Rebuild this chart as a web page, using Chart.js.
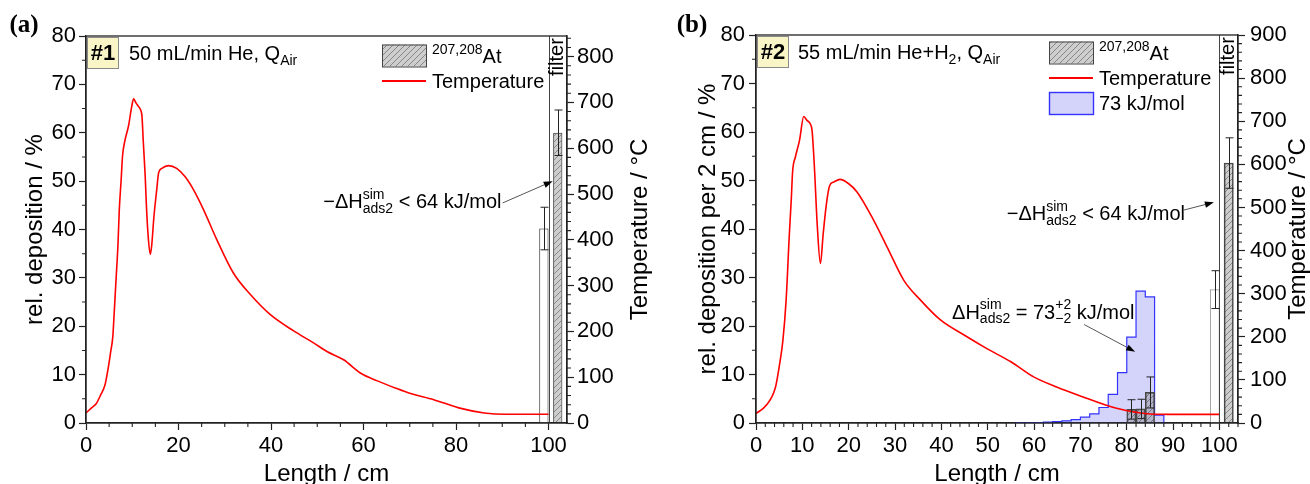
<!DOCTYPE html>
<html>
<head>
<meta charset="utf-8">
<script src="https://cdn.jsdelivr.net/npm/chart.js@4.4.1/dist/chart.umd.min.js"></script>
<style>
  html, body { margin: 0; padding: 0; background: #fff; }
  #wrap { position: relative; width: 1310px; height: 484px; }
  .panel { position: absolute; top: 0; width: 655px; height: 484px; }
  #panelA { left: 0; }
  #panelB { left: 655px; }
</style>
</head>
<body>
<div id="wrap">
  <div class="panel" id="panelA"><canvas id="chartA" width="655" height="484"></canvas></div>
  <div class="panel" id="panelB"><canvas id="chartB" width="655" height="484"></canvas></div>
</div>
<script>
// ---- panel (a): 50 mL/min He ----
const lengthA = [0, 1.2, 2.2, 3.2, 4.1, 4.8, 5.3, 5.8, 6.1, 6.5, 6.9, 7.2, 7.6, 7.9, 8.4, 9.2, 9.9, 10.3, 10.8, 11.3,
  11.8, 12.1, 12.4, 12.8, 13.1, 13.5, 13.9, 14.2, 14.7, 15.3, 15.7, 16.4, 17.8, 19.6, 21.4, 23.2, 25.4, 28.3, 31.9, 35.5,
  39.8, 44.9, 49.2, 52.1, 55.7, 59.5, 63, 67, 70, 75.2, 80.6, 86.1, 90.6, 100];
const tempA = [22, 33, 42, 62, 83, 120, 153, 189, 241, 314, 387, 466, 531, 583, 616, 649, 692, 708, 699, 692,
  684, 670, 612, 539, 466, 400, 368, 387, 452, 510, 546, 556, 562, 556, 538, 510, 466, 400, 327, 281,
  237, 201, 175, 156, 138, 108, 92, 76, 65, 51, 33, 22, 19, 19];
const expPosA = [102];
const expDepA = [60.0];
const expErrA = [4.7];
const openPosA = [99];
const openDepA = [40.2];
const openErrA = [4.4];
const tickXA = [0, 20, 40, 60, 80, 100];
const tickYA = [0, 10, 20, 30, 40, 50, 60, 70, 80];
const tickTA = [0, 100, 200, 300, 400, 500, 600, 700, 800];

// ---- panel (b): 55 mL/min He+H2 ----
const lengthB = [0, 2.2, 4.2, 5.1, 5.8, 6.5, 7.2, 7.6, 7.9, 8.5, 9.4, 10.3, 11.0, 11.7, 12.1, 12.6, 13.2, 13.9, 14.5, 15.2,
  15.9, 16.8, 18.1, 20.0, 21.8, 25.4, 28.3, 31.9, 35.5, 39.8, 44.9, 49.9, 55, 59.9, 65, 69.7, 77.8, 85, 91.2, 100];
const tempB = [22, 41, 83, 137, 191, 285, 439, 516, 583, 617, 656, 711, 702, 694, 678, 594, 462, 370, 439, 509,
  551, 559, 565, 555, 536, 470, 408, 331, 285, 239, 204, 172, 142, 107, 83, 64, 34, 21, 20, 20];
const expPosB = [81, 83, 85, 102];
const expDepB = [2.8, 2.9, 6.3, 53.6];
const expErrB = [2.0, 2.0, 3.2, 5.2];
const openPosB = [99];
const openDepB = [27.5];
const openErrB = [3.9];
const simBinLoB = [56, 58, 60, 62, 64, 66, 68, 70, 72, 74, 76, 78, 80, 82, 84, 86];
const simDepB = [0.02, 0.04, 0.1, 0.2, 0.3, 0.45, 0.7, 1.2, 1.9, 3.2, 5.9, 10.4, 17.7, 27.2, 26.0, 1.6];
const simBinWidth = 2;
const tickXB = [0, 10, 20, 30, 40, 50, 60, 70, 80, 90, 100];
const tickYB = [0, 10, 20, 30, 40, 50, 60, 70, 80];
const tickTB = [0, 100, 200, 300, 400, 500, 600, 700, 800, 900];

const filterEdge = 100;   // cm, start of the filter column
const filterMid = 102;

const FONT = '"Liberation Sans", Arial, sans-serif';
Chart.defaults.font.family = FONT;
Chart.defaults.color = '#000';

function fontOf(size, bold) {
    return (bold ? 'bold ' : '') + size + 'px ' + FONT;
}

function makeHatch(fill) {
    const tile = document.createElement('canvas');
    tile.width = 6;
    tile.height = 6;
    const g = tile.getContext('2d');
    g.fillStyle = fill;
    g.fillRect(0, 0, 6, 6);
    g.strokeStyle = 'rgba(60,60,60,0.7)';
    g.lineWidth = 0.7;
    g.beginPath();
    g.moveTo(0, 6); g.lineTo(6, 0);
    g.moveTo(-1, 1); g.lineTo(1, -1);
    g.moveTo(5, 7); g.lineTo(7, 5);
    g.stroke();
    return document.createElement('canvas').getContext('2d').createPattern(tile, 'repeat');
}
const hatch = makeHatch('rgba(120,120,120,0.36)');
const simFill = 'rgba(100,100,240,0.28)';
const simLine = '#3333ff';
const tempColor = '#ff0000';

// text with stacked super/subscripts
function richWidth(ctx, parts, size) {
    let w = 0;
    parts.forEach(p => {
        if (typeof p === 'string') {
            ctx.font = fontOf(size);
            w += ctx.measureText(p).width;
        } else {
            ctx.font = fontOf(size * 0.7);
            w += Math.max(p.sup ? ctx.measureText(p.sup).width : 0, p.sub ? ctx.measureText(p.sub).width : 0);
        }
    });
    return w;
}

function drawRich(ctx, parts, x, cy, size, align) {
    const base = cy + size * 0.36;
    if (align === 'right') x -= richWidth(ctx, parts, size);
    ctx.textAlign = 'left';
    ctx.textBaseline = 'alphabetic';
    ctx.fillStyle = '#000';
    parts.forEach(p => {
        if (typeof p === 'string') {
            ctx.font = fontOf(size);
            ctx.fillText(p, x, base);
            x += ctx.measureText(p).width;
            return;
        }
        ctx.font = fontOf(size * 0.7);
        let w = 0;
        if (p.sup) { ctx.fillText(p.sup, x, base - size * 0.46); w = ctx.measureText(p.sup).width; }
        if (p.sub) { ctx.fillText(p.sub, x, base + size * 0.24); w = Math.max(w, ctx.measureText(p.sub).width); }
        x += w;
    });
}

function drawArrow(ctx, x1, y1, x2, y2) {
    const a = Math.atan2(y2 - y1, x2 - x1);
    const L = 9, W = 3.2;
    const bx = x2 - L * Math.cos(a), by = y2 - L * Math.sin(a);
    ctx.strokeStyle = '#555';
    ctx.lineWidth = 1;
    ctx.beginPath();
    ctx.moveTo(x1, y1);
    ctx.lineTo(bx, by);
    ctx.stroke();
    ctx.fillStyle = '#000';
    ctx.beginPath();
    ctx.moveTo(x2, y2);
    ctx.lineTo(bx + W * Math.sin(a), by - W * Math.cos(a));
    ctx.lineTo(bx - W * Math.sin(a), by + W * Math.cos(a));
    ctx.closePath();
    ctx.fill();
}

function rotatedText(ctx, text, x, y, size) {
    ctx.save();
    ctx.translate(x, y);
    ctx.rotate(-Math.PI / 2);
    ctx.font = fontOf(size);
    ctx.textAlign = 'center';
    ctx.textBaseline = 'middle';
    ctx.fillStyle = '#000';
    ctx.fillText(text, 0, 0);
    ctx.restore();
}

function makeDecor(p) {
    return {
        id: 'decor' + p.tag,
        afterDatasetsDraw(chart) {
            const { ctx, chartArea: area, scales: { x, y } } = chart;
            ctx.save();
            // filter column separator
            const fx = Math.round(x.getPixelForValue(filterEdge)) + 0.5;
            ctx.strokeStyle = '#444';
            ctx.lineWidth = 1;
            ctx.beginPath();
            ctx.moveTo(fx, area.top);
            ctx.lineTo(fx, area.bottom);
            ctx.stroke();
            // error bars
            chart.data.datasets.forEach((ds, i) => {
                if (!ds.errorBars) return;
                chart.getDatasetMeta(i).data.forEach((bar, j) => {
                    const v = ds.data[j].y, e = ds.errorBars[j];
                    const top = y.getPixelForValue(v + e), bot = y.getPixelForValue(v - e);
                    const bx = Math.round(bar.x) + 0.5;
                    ctx.strokeStyle = '#222';
                    ctx.beginPath();
                    ctx.moveTo(bx, top); ctx.lineTo(bx, bot);
                    ctx.moveTo(bx - 4, top); ctx.lineTo(bx + 4, top);
                    ctx.moveTo(bx - 4, bot); ctx.lineTo(bx + 4, bot);
                    ctx.stroke();
                });
            });
            ctx.restore();
        },
        afterDraw(chart) {
            const { ctx, chartArea: area, scales } = chart;
            const { x, y } = scales;
            ctx.save();
            // frame
            ctx.strokeStyle = '#222';
            ctx.lineWidth = 1.3;
            ctx.strokeRect(area.left, area.top, area.right - area.left, area.bottom - area.top);
            // minor ticks
            ctx.lineWidth = 1.1;
            Object.keys(p.minor).forEach(id => {
                const s = scales[id], step = p.minor[id], major = p.majors[id];
                ctx.beginPath();
                for (let v = s.min; v <= s.max + 1e-6; v += step) {
                    if (major.includes(v)) continue;
                    const px = s.getPixelForValue(v);
                    if (id === 'x') { ctx.moveTo(px, area.bottom); ctx.lineTo(px, area.bottom + 4); }
                    else if (id === 'y') { ctx.moveTo(area.left, px); ctx.lineTo(area.left - 4, px); }
                    else { ctx.moveTo(area.right, px); ctx.lineTo(area.right + 4, px); }
                }
                ctx.stroke();
            });
            // "filter" label
            rotatedText(ctx, 'filter', x.getPixelForValue(filterMid), area.top + 21, 20);
            // run number box
            ctx.fillStyle = '#faf5c6';
            ctx.strokeStyle = '#8a8a8a';
            ctx.lineWidth = 1;
            ctx.fillRect(area.left + 1, area.top + 1, 31, 31);
            ctx.strokeRect(area.left + 1.5, area.top + 1.5, 31, 31);
            ctx.font = fontOf(22, true);
            ctx.fillStyle = '#000';
            ctx.textAlign = 'center';
            ctx.textBaseline = 'middle';
            ctx.fillText(p.run, area.left + 17, area.top + 18);
            drawRich(ctx, p.cond, area.left + p.condX, area.top + 17, 20);
            // legend
            p.legend.forEach((item, i) => {
                const bx = area.left + p.legendX, cy = area.top + p.legendRows[i];
                if (item.kind === 'line') {
                    ctx.strokeStyle = tempColor;
                    ctx.lineWidth = 2;
                    ctx.beginPath();
                    ctx.moveTo(bx, cy); ctx.lineTo(bx + 44, cy);
                    ctx.stroke();
                } else {
                    ctx.fillStyle = item.kind === 'hatch' ? hatch : simFill;
                    ctx.fillRect(bx, cy - 11, 44, 22);
                    ctx.strokeStyle = item.kind === 'hatch' ? '#444' : simLine;
                    ctx.lineWidth = item.kind === 'hatch' ? 1 : 1.4;
                    ctx.strokeRect(bx + 0.5, cy - 10.5, 44, 22);
                }
                drawRich(ctx, item.label, bx + 50, cy, 20);
            });
            // annotations
            p.notes.forEach(n => {
                drawRich(ctx, n.text, x.getPixelForValue(n.at[0]), y.getPixelForValue(n.at[1]), 20);
                drawArrow(ctx, x.getPixelForValue(n.from[0]), y.getPixelForValue(n.from[1]),
                    x.getPixelForValue(n.to[0]), y.getPixelForValue(n.to[1]));
            });
            // axis titles
            rotatedText(ctx, p.yTitle, p.yTitleX, (area.top + area.bottom) / 2, 24);
            rotatedText(ctx, 'Temperature / \u00b0C', p.tTitleX, (area.top + area.bottom) / 2, 24);
            ctx.font = fontOf(24);
            ctx.textAlign = 'center';
            ctx.textBaseline = 'alphabetic';
            ctx.fillStyle = '#000';
            ctx.fillText('Length / cm', (area.left + area.right) / 2, 481);
            // panel letter
            ctx.font = 'bold 25px "Liberation Serif", "Times New Roman", serif';
            ctx.textAlign = 'center';
            ctx.textBaseline = 'middle';
            ctx.fillText(p.letter, p.letterX, 26);
            ctx.restore();
        }
    };
}

function tickAxis(pos, min, max, ticks, pad, fit) {
    return {
        type: 'linear', position: pos, min: min, max: max, offset: false,
        grid: { drawOnChartArea: false, drawTicks: true, tickLength: 7, tickColor: '#222', tickWidth: 1.2, offset: false },
        border: { display: true, color: '#222', width: 1.3 },
        ticks: { color: '#000', font: { size: 22 }, padding: pad, autoSkip: false, maxRotation: 0, includeBounds: false },
        afterBuildTicks: s => { s.ticks = ticks.map(v => ({ value: v })); },
        afterFit: fit
    };
}

function buildPanel(p) {
    const datasets = [
        {
            type: 'line', yAxisID: 'yT', data: p.length.map((x, i) => ({ x: x, y: p.temp[i] })),
            borderColor: tempColor, borderWidth: 1.6, pointRadius: 0, cubicInterpolationMode: 'monotone', fill: false
        },
        {
            type: 'bar', yAxisID: 'y', data: p.expPos.map((x, i) => ({ x: x, y: p.expDep[i] })), errorBars: p.expErr,
            backgroundColor: hatch, borderColor: '#444', borderWidth: 1, grouped: false,
            barPercentage: p.barPct, categoryPercentage: 1
        },
        {
            type: 'bar', yAxisID: 'y', data: p.openPos.map((x, i) => ({ x: x, y: p.openDep[i] })), errorBars: p.openErr,
            backgroundColor: '#fff', borderColor: p.openEdge, borderWidth: 1, grouped: false,
            barPercentage: p.barPct, categoryPercentage: 1
        }
    ];
    if (p.simLo) {
        // each bin value holds from its lower edge to the next edge
        const pts = [{ x: p.simLo[0], y: 0 }].concat(p.simLo.map((x, i) => ({ x: x, y: p.simDep[i] })));
        pts.push({ x: p.simLo[p.simLo.length - 1] + simBinWidth, y: 0 });
        datasets.push({
            type: 'line', yAxisID: 'y', data: pts, stepped: 'before', fill: 'origin',
            borderColor: simLine, borderWidth: 1.2, backgroundColor: simFill, pointRadius: 0
        });
    }
    return new Chart(document.getElementById(p.canvas), {
        type: 'line',
        data: { datasets: datasets },
        options: {
            responsive: false,
            animation: false,
            events: [],
            layout: { padding: { top: p.top, left: 0, right: 0, bottom: 0 } },
            plugins: { legend: { display: false }, tooltip: { enabled: false } },
            scales: {
                x: tickAxis('bottom', 0, 104, p.majors.x, 3, s => { s.height = 61; }),
                y: tickAxis('left', 0, 80, p.majors.y, p.yPad, s => { s.width = p.leftW; }),
                yT: tickAxis('right', 0, p.tMax, p.majors.yT, p.tPad, s => { s.width = p.rightW; })
            }
        },
        plugins: [makeDecor(p)]
    });
}

buildPanel({
    tag: 'A', canvas: 'chartA', letter: '(a)', letterX: 24, run: '#1',
    cond: ['50 mL/min He, Q', { sub: 'Air' }], condX: 43,
    length: lengthA, temp: tempA,
    expPos: expPosA, expDep: expDepA, expErr: expErrA,
    openPos: openPosA, openDep: openDepA, openErr: openErrA, openEdge: '#222',
    barPct: 2 / 3, top: 36, leftW: 86, rightW: 88, yPad: 3, tPad: 3, tMax: 845,
    majors: { x: tickXA, y: tickYA, yT: tickTA },
    minor: { x: 5, y: 5, yT: 20 },
    legendX: 296, legendRows: [19.5, 45],
    legend: [
        { kind: 'hatch', label: [{ sup: '207,208' }, 'At'] },
        { kind: 'line', label: ['Temperature'] }
    ],
    notes: [
        { text: ['\u2212\u0394H', { sup: 'sim', sub: 'ads2' }, ' < 64 kJ/mol'], at: [51.3, 45.9], from: [90.1, 45.5], to: [100.9, 50.0] }
    ],
    yTitle: 'rel. deposition / %', yTitleX: 35, tTitleX: 640
});

buildPanel({
    tag: 'B', canvas: 'chartB', letter: '(b)', letterX: 37, run: '#2',
    cond: ['55 mL/min He+H', { sub: '2' }, ', Q', { sub: 'Air' }], condX: 42,
    length: lengthB, temp: tempB,
    expPos: expPosB, expDep: expDepB, expErr: expErrB,
    openPos: openPosB, openDep: openDepB, openErr: openErrB, openEdge: '#999',
    simLo: simBinLoB, simDep: simDepB,
    barPct: 1, top: 35, leftW: 101, rightW: 72, yPad: 4, tPad: 5, tMax: 900,
    majors: { x: tickXB, y: tickYB, yT: tickTB },
    minor: { x: 2, y: 5, yT: 20 },
    legendX: 293, legendRows: [17.5, 43, 68],
    legend: [
        { kind: 'hatch', label: [{ sup: '207,208' }, 'At'] },
        { kind: 'line', label: ['Temperature'] },
        { kind: 'sim', label: ['73 kJ/mol'] }
    ],
    notes: [
        { text: ['\u2212\u0394H', { sup: 'sim', sub: 'ads2' }, ' < 64 kJ/mol'], at: [54.1, 43.3], from: [92.3, 43.9], to: [98.8, 45.5] },
        { text: ['\u0394H', { sup: 'sim', sub: 'ads2' }, ' = 73', { sup: '+2', sub: '\u22122' }, ' kJ/mol'], at: [42.3, 23.0], from: [70.8, 20.3], to: [81.8, 14.7] }
    ],
    yTitle: 'rel. deposition per 2 cm / %', yTitleX: 53, tTitleX: 643
});
</script>
</body>
</html>
